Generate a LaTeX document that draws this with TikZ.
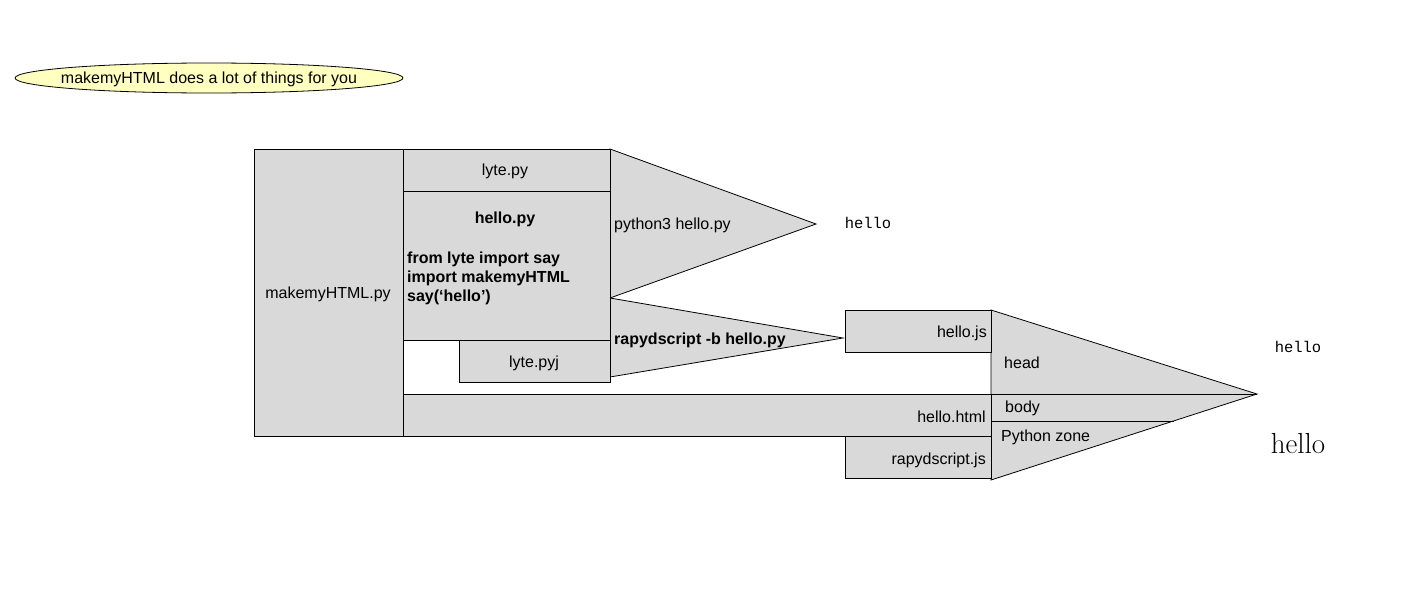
\documentclass[tikz,border=0pt]{standalone}
\usepackage{fontspec}
\newfontfamily\sansf{Liberation Sans}
\newfontfamily\monof{Liberation Mono}
\usetikzlibrary{shapes.geometric}
\definecolor{boxgray}{HTML}{D9D9D9}
\definecolor{paleyellow}{HTML}{FFFFC0}
\tikzset{
  lw/.style={line width=0.8pt},
  box/.style={draw, lw, fill=boxgray, inner sep=0pt, rectangle},
  tri/.style={draw, lw, fill=boxgray, line join=miter},
  txt/.style={inner sep=0pt, font=\sansf\fontsize{16}{19}\selectfont},
  btxt/.style={txt, font=\sansf\bfseries\fontsize{16}{19}\selectfont},
  mono/.style={inner sep=0pt, font=\monof\fontsize{15.5}{18}\selectfont},
  bigserif/.style={inner sep=0pt, font=\rmfamily\fontsize{29}{32}\selectfont},
}
\begin{document}
\begin{tikzpicture}[x=1pt,y=-1pt]
\useasboundingbox (0,0) rectangle (1406,589);

% note ellipse
\node[ellipse, draw, lw, fill=paleyellow, minimum width=388pt, minimum height=30pt, inner sep=0pt] (note) at (209,78) {};
\node[txt] (notelabel) at (209,79) {makemyHTML does a lot of things for you};

% big triangle (HTML output)
\coordinate (btA) at (991,310);
\coordinate (btTip) at (1257,394);
\coordinate (btB) at (991,480);
\filldraw[tri] (btA) -- (btTip) -- (btB) -- cycle;
\coordinate (bodyL) at (991,394);
\coordinate (zoneL) at (991,421);
\coordinate (zoneR) at (1173.5,421);
\draw[lw] (bodyL) -- (btTip);
\draw[lw] (zoneL) -- (zoneR);

% python3 triangle
\coordinate (t1A) at (610,149);
\coordinate (t1Tip) at (816,224);
\coordinate (t1B) at (610,298);
\filldraw[tri] (t1A) -- (t1Tip) -- (t1B) -- cycle;

% rapydscript triangle
\coordinate (t2A) at (610,298);
\coordinate (t2Tip) at (843,338);
\coordinate (t2B) at (610,377);
\filldraw[tri] (t2A) -- (t2Tip) -- (t2B) -- cycle;

% boxes
\node[box, minimum width=149pt, minimum height=287pt] (mk) at (328.5,292.5) {};
\node[txt] (mklabel) at (328,294) {makemyHTML.py};
\node[box, minimum width=207pt, minimum height=42pt] (lyte) at (506.5,170) {};
\node[txt] (lytelabel) at (505,171) {lyte.py};
\node[box, minimum width=207pt, minimum height=149pt] (hello) at (506.5,265.5) {};
\node[btxt] (hellolabel) at (505,219) {hello.py};
\node[btxt, align=left, anchor=west] (code) at (407,278) {from lyte import say\\import makemyHTML\\say(‘hello’)};
\node[box, minimum width=151pt, minimum height=42pt] (pyj) at (534.5,361) {};
\node[txt] (pyjlabel) at (534,363) {lyte.pyj};
\node[box, minimum width=588pt, minimum height=42pt] (html) at (697,415) {};
\node[txt, anchor=east] (htmllabel) at (986,417) {hello.html};
\node[box, minimum width=146pt, minimum height=42pt] (js) at (918,331) {};
\node[txt, anchor=east] (jslabel) at (987,333) {hello.js};
\node[box, minimum width=146pt, minimum height=42pt] (rjs) at (918,457) {};
\node[txt, anchor=east] (rjslabel) at (986,460) {rapydscript.js};

% triangle labels
\node[txt, anchor=west] (py3) at (614,225) {python3 hello.py};
\node[btxt, anchor=west] (rapyd) at (614,340) {rapydscript -b hello.py};
\node[txt, anchor=west] (head) at (1004,363) {head};
\node[txt, anchor=west] (body) at (1005,408) {body};
\node[txt, anchor=west] (zone) at (1001,437) {Python zone};

% outputs
\node[mono] (out1) at (868,223) {hello};
\node[mono] (out2) at (1298,347) {hello};
\node[bigserif] (out3) at (1298,444) {hello};
\end{tikzpicture}
\end{document}
